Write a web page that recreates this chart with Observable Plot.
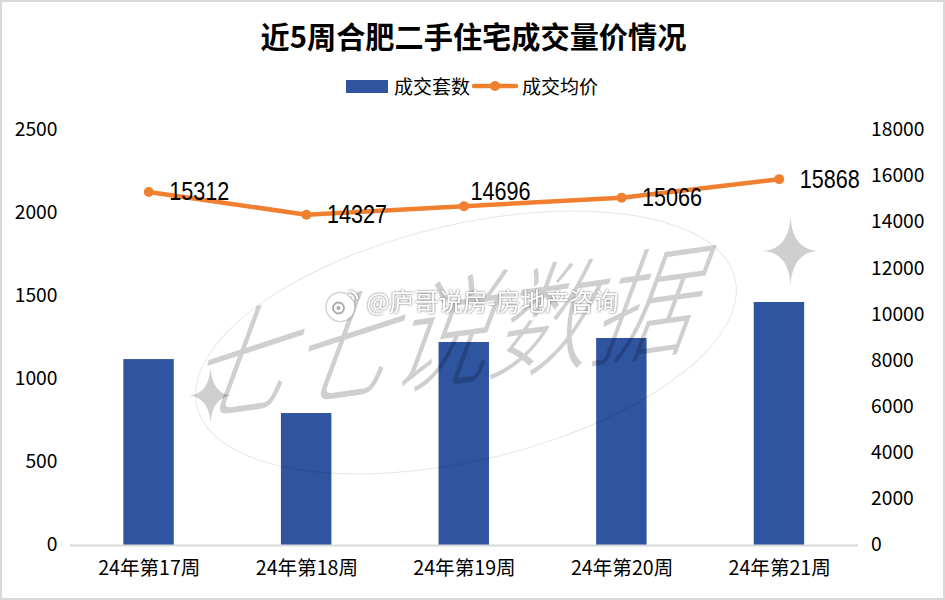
<!DOCTYPE html>
<html><head><meta charset="utf-8">
<script src="https://cdn.jsdelivr.net/npm/d3@7"></script>
<script src="https://cdn.jsdelivr.net/npm/@observablehq/plot@0.6"></script>
<style>
html,body{margin:0;padding:0;background:#fff;overflow:hidden}
#wrap{position:relative;width:945px;height:600px;font-family:"Noto Sans CJK SC",sans-serif;color:#000;overflow:hidden}
#frame{position:absolute;inset:0;border:2px solid #d9d9d9;box-sizing:border-box;pointer-events:none}
#title{position:absolute;left:0;width:947px;top:14px;text-align:center;font-size:29.2px;font-weight:700;line-height:42px}
#legend{position:absolute;left:346px;top:72px;height:28px;display:flex;align-items:center;font-size:19px;line-height:28px}
#legend svg{display:block}
#chart{position:absolute;left:0;top:110px}
#chart svg{display:block;overflow:visible}
#ellipse{position:absolute;left:189px;top:224px;width:554px;height:237px;border:1.5px solid rgba(0,0,0,.10);border-radius:50%;box-sizing:border-box;transform:rotate(-13.4deg)}
.soft{filter:drop-shadow(0 0 1.2px #666)}
</style></head>
<body><div id="wrap">
<div id="title">近5周合肥二手住宅成交量价情况</div>
<div id="legend">
<svg width="42" height="14"><rect width="42" height="13" y="1" fill="#2f54a0"/></svg>
<span style="margin-left:6px">成交套数</span>
<svg width="46" height="14" style="margin-left:2px"><line x1="2" x2="44" y1="7" y2="7" stroke="#f08030" stroke-width="4.5" stroke-linecap="round"/><circle cx="23" cy="7" r="5" fill="#f08030"/></svg>
<span style="margin-left:4px">成交均价</span>
</div>
<div id="chart"></div>
<div id="ellipse"></div>
<div id="frame"></div>
</div>
<script>
const weeks = ["24年第17周","24年第18周","24年第19周","24年第20周","24年第21周"];
const counts = [1120, 795, 1223, 1247, 1464];
const prices = [15312, 14327, 14696, 15066, 15868];
const countTicks = [0,500,1000,1500,2000,2500];
const priceTicks = [0,2000,4000,6000,8000,10000,12000,14000,16000,18000];
const priceMax = 18000, countMax = 2500;
const k = countMax / priceMax;
const rows = weeks.map((w,i)=>({week:w,count:counts[i],price:prices[i],scaled:prices[i]*k}));

const star = (w,h)=>({draw(c,size){
  const s = Math.sqrt(size)/17.72, a=w*s, b=h*s, q=s*2;
  c.moveTo(0,-b);
  c.quadraticCurveTo(q,-q,a,0);
  c.quadraticCurveTo(q,q,0,b);
  c.quadraticCurveTo(-q,q,-a,0);
  c.quadraticCurveTo(-q,-q,0,-b);
  c.closePath();
}});
const arc = (rad)=>({draw(c,size){
  const s = Math.sqrt(size)/17.72;
  c.moveTo(rad*s*Math.cos(-1.5),rad*s*Math.sin(-1.5));
  c.arc(0,0,rad*s,-1.5,-0.1);
}});
const cjk = '"Noto Sans CJK SC",sans-serif';
const tickFont = {fontSize:19.3, fontFamily:cjk, fill:"#000"};
const labelFont = {fontSize:25, fontFamily:'"Liberation Sans",sans-serif', fill:"#000", className:"vals"};
const markOne = [0];

const chart = Plot.plot({
  width:945, height:490, marginLeft:70, marginRight:87, marginTop:20, marginBottom:55,
  style:{background:"transparent",overflow:"visible"},
  x:{domain:weeks, paddingInner:0.68, paddingOuter:0.34, round:false, label:null},
  y:{domain:[0,countMax], label:null},
  marks:[
    Plot.barY(rows,{x:"week",y:"count",fill:"#2f54a0",dx:-0.25}),
    Plot.ruleY([0],{stroke:"#d9d9d9",strokeWidth:2}),
    Plot.axisX({tickSize:0,tickPadding:16,label:null,...tickFont,fontSize:19.6}),
    Plot.axisY(countTicks,{anchor:"left",tickSize:0,tickPadding:13,dy:-0.5,label:null,tickFormat:d=>String(d),...tickFont}),
    Plot.axisY(priceTicks.map(d=>d*k),{anchor:"right",tickSize:0,tickPadding:12.5,dy:-0.5,label:null,tickFormat:d=>String(Math.round(d/k)),...tickFont}),
    Plot.line(rows,{x:"week",y:"scaled",stroke:"#f08030",strokeWidth:4.5,dx:-0.5,dy:-0.5}),
    Plot.dot(rows,{x:"week",y:"scaled",fill:"#f08030",r:5,dx:-0.5,dy:-0.5}),
    Plot.text(rows.filter((d,i)=>i!==2),{x:"week",y:"scaled",text:d=>String(d.price),dx:50,...labelFont}),
    Plot.text(rows.filter((d,i)=>i===2),{x:"week",y:"scaled",text:d=>String(d.price),dx:36,dy:-15,...labelFont}),
    // watermark
    Plot.text(markOne,{frameAnchor:"middle",text:()=>"七七说数据",className:"wm",dx:-22,dy:2,rotate:-8,fontSize:120,fontStyle:"italic",fontWeight:300,fontFamily:cjk,fill:"#000",fillOpacity:0.19}),
    Plot.dot(markOne,{frameAnchor:"middle",dx:-254,dy:57.5,r:10,symbol:star(21,27),fill:"#000",fillOpacity:0.19}),
    Plot.dot(markOne,{frameAnchor:"middle",dx:326,dy:-87,r:10,symbol:star(27,34),fill:"#000",fillOpacity:0.19}),
    Plot.dot(markOne,{frameAnchor:"middle",dx:-124,dy:-31,r:14,fill:"#fff",className:"soft"}),
    Plot.dot(markOne,{frameAnchor:"middle",dx:-126,dy:-30,r:5.5,fill:"none",stroke:"#aaa",strokeWidth:1.8}),
    Plot.dot(markOne,{frameAnchor:"middle",dx:-126,dy:-30,r:2,fill:"#aaa"}),
    Plot.dot(markOne,{frameAnchor:"middle",dx:-116,dy:-38,r:10,symbol:arc(9),fill:"none",stroke:"#fff",strokeWidth:2,className:"soft"}),
    Plot.dot(markOne,{frameAnchor:"middle",dx:-116,dy:-38,r:10,symbol:arc(5),fill:"none",stroke:"#fff",strokeWidth:2,className:"soft"}),
    Plot.text(markOne,{frameAnchor:"middle",text:()=>"@庐哥说房-房地产咨询",className:"soft",dx:28,dy:-35,fontSize:24.5,fontFamily:cjk,fill:"#fff"})
  ]
});
document.getElementById("chart").appendChild(chart);
d3.select(chart).selectAll(".vals text").attr("textLength",60).attr("lengthAdjust","spacingAndGlyphs");
d3.select(chart).selectAll(".wm text").attr("transform",function(){return this.getAttribute("transform")+" skewX(-18) scale(.85,1)";});
</script></body></html>
